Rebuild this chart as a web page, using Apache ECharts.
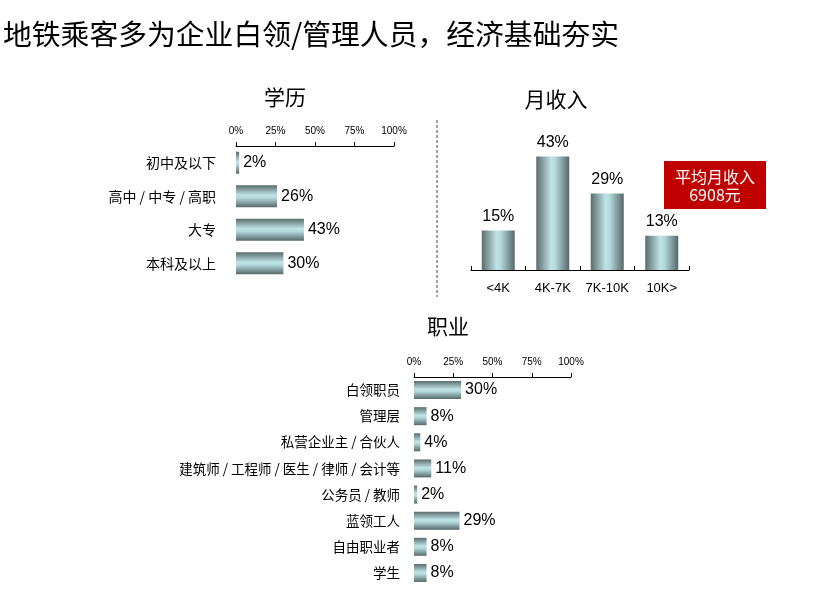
<!DOCTYPE html>
<html>
<head>
<meta charset="utf-8">
<script src="https://cdn.jsdelivr.net/npm/echarts@6/dist/echarts.min.js"></script>
<style>
  html, body { margin: 0; padding: 0; background: #fff; }
  #main { width: 821px; height: 606px; }
</style>
</head>
<body>
<div id="main"></div>
<script>
// 学历
let eduCats = ['初中及以下', '高中 / 中专 / 高职', '大专', '本科及以上'];
let eduVals = [2, 26, 43, 30];
// 月收入
let incomeCats = ['<4K', '4K-7K', '7K-10K', '10K>'];
let incomeVals = [15, 43, 29, 13];
// 职业
let jobCats = ['白领职员', '管理层', '私营企业主 / 合伙人', '建筑师 / 工程师 / 医生 / 律师 / 会计等', '公务员 / 教师', '蓝领工人', '自由职业者', '学生'];
let jobVals = [30, 8, 4, 11, 2, 29, 8, 8];
// 百分比刻度
let pctTicks = [0, 25, 50, 75, 100];

let cjk = '"Noto Sans CJK SC", sans-serif';
let latin = '"Liberation Sans", Arial, sans-serif';

let myChart = echarts.init(document.getElementById('main'));

// 圆柱感的渐变
function barGrad(horizontal) {
    let stops = [
        { offset: 0, color: '#5a6c6d' },
        { offset: 0.45, color: '#bfe3e6' },
        { offset: 0.58, color: '#b3d8db' },
        { offset: 1, color: '#566869' }
    ];
    return horizontal ? new echarts.graphic.LinearGradient(0, 0, 0, 1, stops)
                      : new echarts.graphic.LinearGradient(0, 0, 1, 0, stops);
}

// 顶部百分比轴
function pctAxis(gridIndex) {
    return {
        type: 'value', gridIndex: gridIndex, position: 'top',
        min: 0, max: 100, interval: 25,
        axisLine: { show: true, lineStyle: { color: '#000', width: 1 } },
        axisTick: { show: true, length: 4, lineStyle: { color: '#000' } },
        splitLine: { show: false },
        axisLabel: {
            margin: 10, fontSize: 10, color: '#000', fontFamily: latin,
            formatter: function (v) { return pctTicks.indexOf(v) >= 0 ? v + '%' : ''; }
        }
    };
}

function catAxis(gridIndex, data, fontSize, margin) {
    return {
        type: 'category', gridIndex: gridIndex, inverse: true, data: data,
        axisLine: { show: false }, axisTick: { show: false },
        axisLabel: { interval: 0, margin: margin, fontSize: fontSize, color: '#000', fontFamily: cjk }
    };
}

let valLabel = {
    show: true, position: 'right', distance: 4,
    fontSize: 16, color: '#000', fontFamily: latin,
    formatter: '{c}%'
};

let option = {
    animation: false,
    textStyle: { fontFamily: cjk },
    title: [
        { text: '地铁乘客多为企业白领/管理人员，经济基础夯实', left: -2, top: 15,
          textStyle: { fontSize: 28.8, fontWeight: 'normal', color: '#000', fontFamily: cjk } },
        { text: '学历', left: 280, top: 82, textAlign: 'center',
          textStyle: { fontSize: 21, fontWeight: 'normal', color: '#000' } },
        { text: '月收入', left: 551, top: 84, textAlign: 'center',
          textStyle: { fontSize: 21, fontWeight: 'normal', color: '#000' } },
        { text: '职业', left: 443, top: 311, textAlign: 'center',
          textStyle: { fontSize: 21, fontWeight: 'normal', color: '#000' } }
    ],
    grid: [
        { left: 236, top: 146, width: 158, height: 134 },
        { left: 471, top: 138, width: 218, height: 132 },
        { left: 414, top: 377, width: 157, height: 209 }
    ],
    xAxis: [
        pctAxis(0),
        {
            type: 'category', gridIndex: 1, data: incomeCats,
            axisLine: { show: true, lineStyle: { color: '#000' } },
            axisTick: { show: true, inside: true, length: 4, lineStyle: { color: '#000' } },
            axisLabel: { interval: 0, margin: 12, fontSize: 13, color: '#000', fontFamily: latin }
        },
        pctAxis(2)
    ],
    yAxis: [
        catAxis(0, eduCats, 14, 20),
        { type: 'value', gridIndex: 1, min: 0, max: 50, show: false },
        catAxis(2, jobCats, 13.5, 14)
    ],
    series: [
        {
            type: 'bar', xAxisIndex: 0, yAxisIndex: 0, data: eduVals,
            barWidth: 22, itemStyle: { color: barGrad(true) }, label: valLabel
        },
        {
            type: 'bar', xAxisIndex: 1, yAxisIndex: 1, data: incomeVals,
            barWidth: 33, itemStyle: { color: barGrad(false) },
            label: { show: true, position: 'top', distance: 6, fontSize: 16, color: '#000',
                     fontFamily: latin, formatter: '{c}%' }
        },
        {
            type: 'bar', xAxisIndex: 2, yAxisIndex: 2, data: jobVals,
            barWidth: 18, itemStyle: { color: barGrad(true) }, label: valLabel
        }
    ],
    graphic: [
        {
            type: 'line', shape: { x1: 437, y1: 120, x2: 437, y2: 297 },
            style: { stroke: '#444', lineWidth: 1, lineDash: [3, 2] }
        },
        {
            type: 'rect', shape: { x: 664, y: 161, width: 102, height: 48 },
            style: { fill: '#c00000' }
        },
        {
            type: 'text', x: 715, y: 177,
            style: { text: '平均月收入', fill: '#fff', fontSize: 16, fontFamily: cjk,
                     align: 'center', verticalAlign: 'middle' }
        },
        {
            type: 'text', x: 715, y: 195,
            style: { text: '6908元', fill: '#fff', fontSize: 16, fontFamily: cjk,
                     align: 'center', verticalAlign: 'middle' }
        }
    ]
};

myChart.setOption(option);
</script>
</body>
</html>
